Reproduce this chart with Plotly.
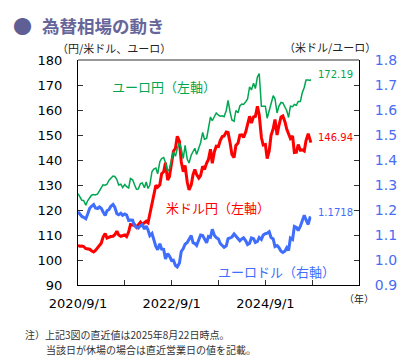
import plotly.graph_objects as go
import pandas as pd

# ---- data (semi-monthly readings, last point = 2025-08-22) ----
dates = list(pd.date_range('2020-09-01', '2025-08-15', freq='SMS').strftime('%Y-%m-%d')) + ['2025-08-22']

usdjpy = [
    105.9, 105.5, 105.6, 105.4, 104.6, 104.6, 104.3, 103.7,
    103.2, 103.8, 104.9, 105.4, 106.7, 109.1, 110.6, 108.8, 109.3, 109.4, 109.5, 110.1,
    111.5, 110.0, 109.5, 109.6, 110.0, 109.4, 111.3, 114.2, 114.0, 114.2, 113.1, 114.0,
    115.1, 114.2, 115.0, 115.5, 114.9, 118.5, 122.5, 126.4, 129.9, 129.2, 130.1, 134.5,
    135.3, 138.9, 132.0, 133.3, 139.7, 143.5, 144.7, 149.5, 147.5, 139.3, 135.3, 137.8,
    131.1, 128.0, 130.1, 134.1, 136.2, 134.2, 132.8, 133.8, 137.5, 136.2, 138.8, 140.2,
    144.3, 138.7, 143.4, 145.5, 145.4, 147.8, 149.4, 149.6, 151.2, 151.0, 146.8, 142.2,
    141.0, 145.8, 146.8, 150.0, 150.1, 149.0, 151.3, 154.2, 157.5, 154.8, 157.3, 157.4,
    161.5, 158.0, 149.0, 146.0, 146.2, 140.6, 143.6, 149.8, 152.5, 156.2, 150.0, 153.6,
    157.2, 157.6, 155.2, 152.3, 150.6, 148.6, 149.6, 143.0, 143.1, 146.2, 143.9, 144.1,
    143.6, 147.8, 150.5, 147.2, 146.94,
]

eurjpy = [
    126.5, 125.0, 123.9, 123.8, 121.9, 123.7, 124.7, 125.9,
    126.2, 126.0, 126.4, 127.8, 128.9, 130.1, 129.9, 130.3, 131.9, 132.6, 133.6, 133.4,
    132.2, 130.0, 130.3, 129.0, 130.2, 129.3, 128.8, 132.6, 132.1, 130.2, 128.3, 128.4,
    130.6, 130.8, 128.9, 131.2, 128.6, 130.0, 135.4, 136.4, 136.8, 134.5, 139.3, 140.6,
    141.0, 139.0, 135.5, 136.4, 139.8, 143.3, 141.5, 144.6, 146.8, 144.5, 140.6, 145.9,
    140.3, 138.8, 142.0, 143.4, 144.7, 142.2, 144.4, 146.9, 151.0, 148.3, 148.6, 153.0,
    157.2, 155.7, 157.2, 158.8, 157.9, 157.5, 157.7, 157.3, 159.8, 163.8, 159.2, 156.0,
    155.5, 159.8, 158.9, 161.6, 162.4, 162.2, 163.3, 164.4, 169.3, 168.0, 170.7, 168.6,
    173.2, 174.6, 161.5, 161.5, 161.5, 156.7, 160.0, 163.3, 165.7, 164.5, 158.8, 161.5,
    163.0, 162.8, 161.0, 159.7, 157.0, 161.5, 161.3, 162.2, 161.9, 163.4, 163.4, 166.8,
    169.0, 172.0, 172.0, 171.8, 172.19,
]

eurusd = [
    1.193, 1.185, 1.174, 1.171, 1.165, 1.183, 1.207, 1.215,
    1.222, 1.208, 1.206, 1.212, 1.207, 1.193, 1.178, 1.197, 1.202, 1.215, 1.222, 1.211,
    1.185, 1.181, 1.187, 1.179, 1.184, 1.180, 1.158, 1.160, 1.159, 1.137, 1.131, 1.128,
    1.137, 1.141, 1.124, 1.136, 1.120, 1.097, 1.106, 1.081, 1.054, 1.041, 1.065, 1.044,
    1.043, 1.004, 1.026, 1.016, 0.998, 0.999, 0.978, 0.972, 0.988, 1.034, 1.046, 1.063,
    1.070, 1.083, 1.098, 1.069, 1.066, 1.058, 1.084, 1.100, 1.098, 1.086, 1.069, 1.094,
    1.091, 1.123, 1.098, 1.090, 1.084, 1.066, 1.057, 1.051, 1.057, 1.085, 1.088, 1.092,
    1.104, 1.095, 1.087, 1.077, 1.084, 1.089, 1.077, 1.062, 1.067, 1.088, 1.085, 1.070,
    1.074, 1.090, 1.082, 1.100, 1.105, 1.107, 1.113, 1.090, 1.084, 1.054, 1.058, 1.050,
    1.035, 1.030, 1.036, 1.049, 1.038, 1.088, 1.082, 1.134, 1.130, 1.118, 1.135, 1.155,
    1.179, 1.161, 1.142, 1.170, 1.1718,
]

x_tickvals = ['2020-09-01', '2021-09-01', '2022-09-01', '2023-09-01',
              '2024-09-01', '2025-09-01', '2026-09-01']
x_ticktext = ['2020/9/1', '', '2022/9/1', '', '2024/9/1', '', '']

GREEN = '#00a650'
RED = '#ff0000'
BLUE = '#3f6dfc'
JP = 'Noto Sans CJK JP'
NUM = 'DejaVu Sans'

fig = go.Figure()
fig.add_trace(go.Scatter(x=dates, y=eurusd, yaxis='y2', mode='lines',
                         line=dict(color=BLUE, width=3)))
fig.add_trace(go.Scatter(x=dates, y=usdjpy, yaxis='y', mode='lines',
                         line=dict(color=RED, width=3)))
fig.add_trace(go.Scatter(x=dates, y=eurjpy, yaxis='y', mode='lines',
                         line=dict(color=GREEN, width=1.5)))

fig.update_layout(
    width=411, height=357,
    margin=dict(l=70, r=60, t=52, b=80),
    plot_bgcolor='white', paper_bgcolor='white',
    showlegend=False,
    xaxis=dict(type='date', range=['2020-09-01', '2026-09-01'],
               tickvals=x_tickvals, ticktext=x_ticktext,
               ticks='inside', ticklen=5, tickcolor='#333',
               showline=True, linecolor='black', linewidth=1,
               showgrid=False, zeroline=False, automargin=False,
               tickfont=dict(family=NUM, size=13, color='black'),
               ticklabelstandoff=6),
    yaxis=dict(range=[90, 180], tick0=90, dtick=10,
               ticks='inside', ticklen=5, tickcolor='#333',
               showline=True, linecolor='black', linewidth=1,
               showgrid=False, zeroline=False, automargin=False,
               tickfont=dict(family=NUM, size=13, color='black'),
               ticklabelstandoff=12),
    yaxis2=dict(range=[0.9, 1.8], tick0=0.9, dtick=0.1, tickformat='.1f',
                overlaying='y', side='right',
                ticks='inside', ticklen=5, tickcolor='#333',
                showline=True, linecolor='black', linewidth=1,
                showgrid=False, zeroline=False, automargin=False,
                tickfont=dict(family=NUM, size=14, color='#4a6cf5'),
                ticklabelstandoff=12),
)

fig.add_shape(type='line', xref='paper', yref='paper', x0=0, x1=1, y0=1, y1=1,
              line=dict(color='#999999', width=2))

def px(xp, yp):
    return (xp - 70) / 281, (277 - yp) / 225

anns = []
def add(text, xp, yp, size, color, family=JP, xanchor='center', align='center'):
    x, y = px(xp, yp)
    anns.append(dict(text=text, x=x, y=y, xref='paper', yref='paper', showarrow=False,
                     xanchor=xanchor, yanchor='middle', align=align,
                     font=dict(family=family, size=size, color=color)))

add('●', 14, 17, 19, '#5f5f96')
add('<b>為替相場の動き</b>', 32, 17, 17.5, '#66669a', xanchor='left')
add('（円/米ドル、ユーロ）', 106, 40, 11, '#222222')
add('（米ドル/ユーロ）', 322, 39, 11, '#222222')
add('（年）', 351, 290, 10, '#222222')
add('ユーロ円（左軸）', 156, 78, 13, GREEN)
add('米ドル円（左軸）', 210, 199, 13, RED)
add('ユーロドル（右軸）', 268, 263, 13, BLUE)
add('注）上記3図の直近値は2025年8月22日時点。', 15, 326, 10, '#333333', xanchor='left')
add('当該日が休場の場合は直近営業日の値を記載。', 36, 341, 10, '#333333', xanchor='left')

# end-value labels anchored to the last data points
for series, col, yref, txt in [(eurjpy, GREEN, 'y', '172.19'),
                               (usdjpy, RED, 'y', '146.94'),
                               (eurusd, BLUE, 'y2', '1.1718')]:
    anns.append(dict(text=txt, x=dates[-1], y=series[-1], xref='x', yref=yref,
                     showarrow=False, xanchor='left', yanchor='middle',
                     xshift=5, yshift=5,
                     font=dict(family=NUM, size=10, color=col)))

fig.update_layout(annotations=anns)
fig.write_html('out.html')
